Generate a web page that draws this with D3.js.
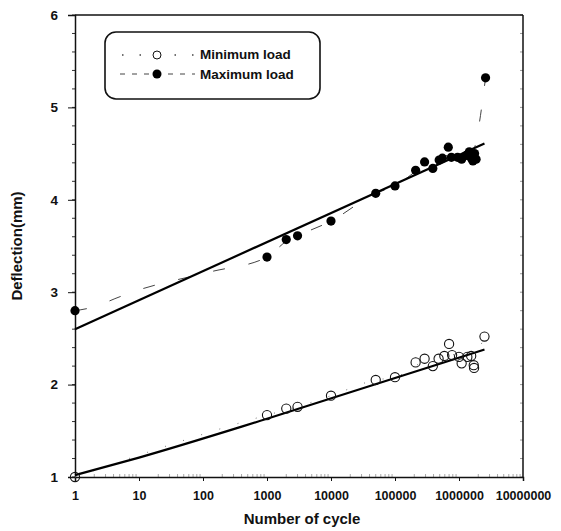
<!DOCTYPE html>
<html>
<head>
<meta charset="utf-8">
<script src="https://cdn.jsdelivr.net/npm/d3@7"></script>
<style>
  body { margin: 0; background: #fff; }
  text { font-family: "Liberation Sans", Arial, sans-serif; font-weight: bold; fill: #111; }
</style>
</head>
<body>
<div id="chart"></div>
<script>
// cycles / deflection
const minCycles = [1, 1000, 2000, 3000, 10000, 50000, 100000, 210000, 290000, 390000, 480000, 590000, 700000, 780000, 1000000, 1100000, 1350000, 1550000, 1700000, 1720000, 2500000]
const minValues = [1.0, 1.67, 1.74, 1.76, 1.88, 2.05, 2.08, 2.24, 2.28, 2.20, 2.28, 2.31, 2.44, 2.32, 2.30, 2.23, 2.30, 2.31, 2.21, 2.18, 2.52]
const maxCycles = [1, 1000, 2000, 3000, 10000, 50000, 100000, 210000, 290000, 390000, 490000, 550000, 680000, 760000, 950000, 1100000, 1300000, 1450000, 1560000, 1650000, 1750000, 1850000, 2600000]
const maxValues = [2.8, 3.38, 3.57, 3.61, 3.77, 4.07, 4.15, 4.32, 4.41, 4.34, 4.43, 4.45, 4.57, 4.46, 4.46, 4.44, 4.48, 4.52, 4.45, 4.42, 4.50, 4.44, 5.32]

// regression lines (endpoints)
const fitMinCycles = [1, 10, 1000, 2500000]
const fitMinValues = [1.02, 1.21, 1.63, 2.38]
const fitMaxCycles = [1, 2500000]
const fitMaxValues = [2.6, 4.61]

// thin dashed trend through the means
const trendMaxCycles = [1, 2.2, 4.2, 7.8, 130, 1000, 2000, 3000, 10000, 50000, 100000, 300000, 700000, 1500000, 2600000]
const trendMaxValues = [2.8, 2.85, 2.93, 3.0, 3.22, 3.38, 3.55, 3.61, 3.77, 4.07, 4.15, 4.38, 4.48, 4.47, 5.32]
const trendMinCycles = [1, 1000, 3000, 10000, 50000, 100000, 300000, 700000, 1500000, 2500000]
const trendMinValues = [1.0, 1.67, 1.76, 1.88, 2.05, 2.08, 2.26, 2.33, 2.27, 2.52]

const xTicks = [1, 10, 100, 1000, 10000, 100000, 1000000, 10000000]
const yTicks = [1, 2, 3, 4, 5, 6]

const margin = { top: 15, left: 75, right: 38, bottom: 54 }
const W = 561
const H = 531
const width = W - margin.left - margin.right
const height = H - margin.top - margin.bottom

const svg = d3.select('#chart').append('svg')
  .attr('width', W).attr('height', H)
const g = svg.append('g').attr('transform', `translate(${margin.left}, ${margin.top})`)

const x = d3.scaleLog().domain([1, 1e7]).range([0, width])
const y = d3.scaleLinear().domain([1, 6]).range([height, 0])

// minor ticks
const yMinor = d3.range(1, 6.001, 0.2)
g.selectAll('.ymin').data(yMinor).enter().append('line')
  .attr('x1', -3).attr('x2', 0)
  .attr('y1', d => y(d)).attr('y2', d => y(d))
  .attr('stroke', '#333').attr('stroke-width', 1)
g.selectAll('.ymin2').data(yMinor).enter().append('line')
  .attr('x1', width - 3).attr('x2', width)
  .attr('y1', d => y(d)).attr('y2', d => y(d))
  .attr('stroke', '#999').attr('stroke-width', 1)
const xMinor = []
for (let e = 0; e < 7; e++) for (let k = 2; k <= 9; k++) xMinor.push(k * Math.pow(10, e))
g.selectAll('.xmin').data(xMinor).enter().append('line')
  .attr('x1', d => x(d)).attr('x2', d => x(d))
  .attr('y1', height).attr('y2', height - 3)
  .attr('stroke', '#aaa').attr('stroke-width', 1)

// axes
g.append('g').attr('transform', `translate(0, ${height})`)
  .call(d3.axisBottom(x).tickValues(xTicks).tickFormat(d3.format('d')).tickSize(4).tickPadding(10))
  .call(a => a.selectAll('text').style('font-size', '12.5px'))
g.append('g')
  .call(d3.axisLeft(y).tickValues(yTicks).tickFormat(d3.format('d')).tickSize(7).tickPadding(10))
  .call(a => a.selectAll('text').style('font-size', '13.5px'))
g.selectAll('.domain').attr('stroke', '#111').attr('stroke-width', 1.5)
g.selectAll('.tick line').attr('stroke', '#111')

// top and right frame
g.append('line').attr('x1', 0).attr('x2', width).attr('y1', 0).attr('y2', 0)
  .attr('stroke', '#111').attr('stroke-width', 1.5)
g.append('line').attr('x1', width).attr('x2', width).attr('y1', 0).attr('y2', height)
  .attr('stroke', '#111').attr('stroke-width', 1.5)

// titles
svg.append('text').attr('x', margin.left + width / 2 + 3).attr('y', 524)
  .attr('text-anchor', 'middle').style('font-size', '15px').text('Number of cycle')
svg.append('text').attr('transform', `translate(22, ${margin.top + height / 2}) rotate(-90)`)
  .attr('text-anchor', 'middle').style('font-size', '15px').text('Deflection(mm)')

const line = d3.line().x(d => x(d[0])).y(d => y(d[1]))
const pair = (cs, vs) => cs.map((c, i) => [c, vs[i]])

// trend lines
g.append('path').datum(pair(trendMaxCycles, trendMaxValues))
  .attr('d', line.curve(d3.curveMonotoneX)).attr('fill', 'none')
  .attr('stroke', '#444').attr('stroke-width', 1).attr('stroke-dasharray', '12,24')
g.append('path').datum(pair(trendMinCycles, trendMinValues))
  .attr('d', line.curve(d3.curveMonotoneX)).attr('fill', 'none')
  .attr('stroke', '#777').attr('stroke-width', 1).attr('stroke-dasharray', '1,18')

// fit lines
g.append('path').datum(pair(fitMaxCycles, fitMaxValues))
  .attr('d', line.curve(d3.curveLinear)).attr('fill', 'none')
  .attr('stroke', '#000').attr('stroke-width', 2.2)
g.append('path').datum(pair(fitMinCycles, fitMinValues))
  .attr('d', line.curve(d3.curveMonotoneX)).attr('fill', 'none')
  .attr('stroke', '#000').attr('stroke-width', 2.2)

// markers
g.selectAll('.pmin').data(pair(minCycles, minValues)).enter().append('circle')
  .attr('cx', d => x(d[0])).attr('cy', d => y(d[1])).attr('r', 4.6)
  .attr('fill', 'none').attr('stroke', '#111').attr('stroke-width', 1.1)
g.selectAll('.pmax').data(pair(maxCycles, maxValues)).enter().append('circle')
  .attr('cx', d => x(d[0])).attr('cy', d => y(d[1])).attr('r', 4.6)
  .attr('fill', '#000')

// legend
const lg = svg.append('g')
lg.append('rect').attr('x', 105).attr('y', 32).attr('width', 215).attr('height', 67)
  .attr('rx', 11).attr('fill', '#fff').attr('stroke', '#111').attr('stroke-width', 1.6)
lg.append('line').attr('x1', 122).attr('x2', 195).attr('y1', 55).attr('y2', 55)
  .attr('stroke', '#444').attr('stroke-dasharray', '1.5,16').attr('stroke-width', 1.5)
lg.append('circle').attr('cx', 157).attr('cy', 55).attr('r', 4)
  .attr('fill', '#fff').attr('stroke', '#111')
lg.append('text').attr('x', 200).attr('y', 59).style('font-size', '13.5px').text('Minimum load')
lg.append('line').attr('x1', 120).attr('x2', 195).attr('y1', 74).attr('y2', 74)
  .attr('stroke', '#444').attr('stroke-dasharray', '5,7').attr('stroke-width', 1)
lg.append('circle').attr('cx', 157).attr('cy', 74).attr('r', 4.5).attr('fill', '#000')
lg.append('text').attr('x', 200).attr('y', 79).style('font-size', '13.5px').text('Maximum load')
</script>
</body>
</html>
